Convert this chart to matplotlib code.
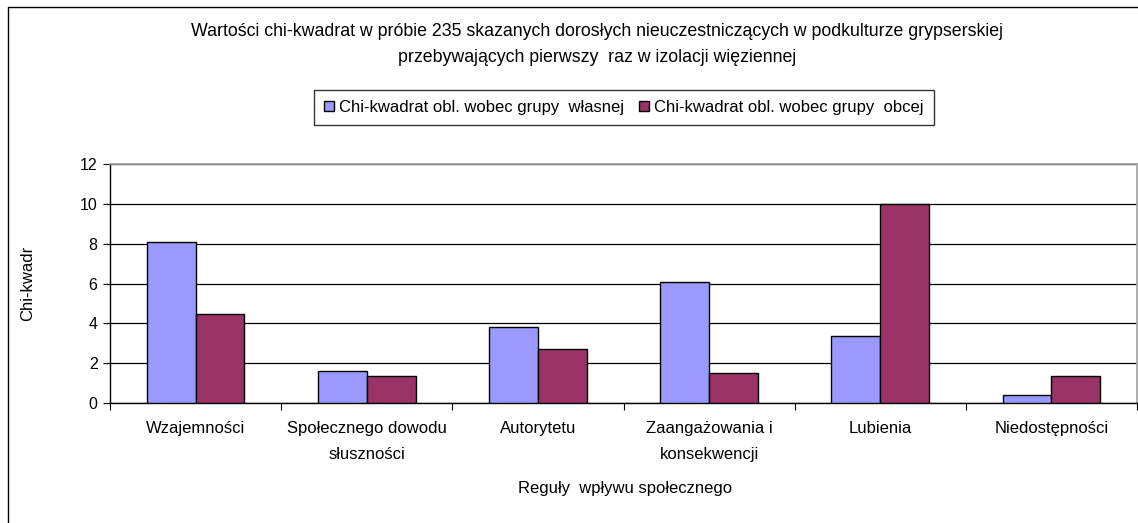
import matplotlib
matplotlib.use("Agg")
import matplotlib.pyplot as plt
import numpy as np
from matplotlib.patches import Rectangle

categories = ["Wzajemności", "Społecznego dowodu\nsłuszności", "Autorytetu",
              "Zaangażowania i\nkonsekwencji", "Lubienia", "Niedostępności"]
own_group = [8.08, 1.63, 3.82, 6.08, 3.37, 0.43]
other_group = [4.45, 1.37, 2.72, 1.53, 10.0, 1.37]
series_names = ["Chi-kwadrat obl. wobec grupy  własnej", "Chi-kwadrat obl. wobec grupy  obcej"]
yticks = [0, 2, 4, 6, 8, 10, 12]

plt.rcParams['font.family'] = ['Liberation Sans', 'DejaVu Sans']

W, H = 1138, 523
fig = plt.figure(figsize=(W / 100, H / 100), dpi=100)
ax = fig.add_axes([110 / W, 1 - 403.3 / H, (1137 - 110) / W, (403.3 - 163.7) / H])

x = np.arange(len(categories))
bw = 1 / 3.5
ax.bar(x - bw / 2, own_group, bw, color="#9999FF", edgecolor="black", linewidth=1.0,
       label=series_names[0], zorder=3)
ax.bar(x + bw / 2, other_group, bw, color="#993366", edgecolor="black", linewidth=1.0,
       label=series_names[1], zorder=3)

ax.set_xlim(-0.5, len(categories) - 0.5)
ax.set_ylim(0, 12)
ax.set_yticks(yticks)
ax.set_yticklabels([str(v) for v in yticks], fontsize=11.5)
ax.yaxis.grid(True, color="black", linewidth=0.9, zorder=0)
ax.set_axisbelow(True)

ax.set_xticks(np.arange(-0.5, len(categories), 1))
ax.set_xticklabels([])
ax.set_xticks(x, minor=True)
ax.set_xticklabels(categories, minor=True, fontsize=12, linespacing=1.85, va="top")
ax.tick_params(axis="x", which="minor", length=0, pad=13)
ax.tick_params(axis="x", which="major", length=5, color="black", direction="out")
ax.tick_params(axis="y", length=5, direction="out", pad=4)

for s in ["top", "right"]:
    ax.spines[s].set_color("#a0a0a0")
    ax.spines[s].set_linewidth(1.2)
for s in ["left", "bottom"]:
    ax.spines[s].set_color("black")
    ax.spines[s].set_linewidth(1.0)

ax.set_ylabel("Chi-kwadr", fontsize=12)
ax.yaxis.set_label_coords((35 - 110) / (1137 - 110), 0.5)
fig.text(625 / W, 1 - 488 / H, "Reguły  wpływu społecznego", ha="center", va="center", fontsize=12)

fig.text(597 / W, 1 - 31 / H,
         "Wartości chi-kwadrat w próbie 235 skazanych dorosłych nieuczestniczących w podkulturze grypserskiej",
         ha="center", va="center", fontsize=12.8)
fig.text(597 / W, 1 - 58 / H, "przebywających pierwszy  raz w izolacji więziennej",
         ha="center", va="center", fontsize=12.8)

leg = fig.legend(loc="center", bbox_to_anchor=(624 / W, 1 - 107.5 / H), ncol=2, fontsize=12,
                 frameon=True, fancybox=False, edgecolor="black", handlelength=0.6,
                 handleheight=0.6, handletextpad=0.3, columnspacing=0.9, borderpad=0.62)
leg.get_frame().set_linewidth(1.0)

fig.patches.append(Rectangle((8 / W, -0.05), 1.2, 1 - 7 / H + 0.05, transform=fig.transFigure,
                             fill=False, edgecolor="black", linewidth=1.0))

fig.savefig("out.png", dpi=100)
